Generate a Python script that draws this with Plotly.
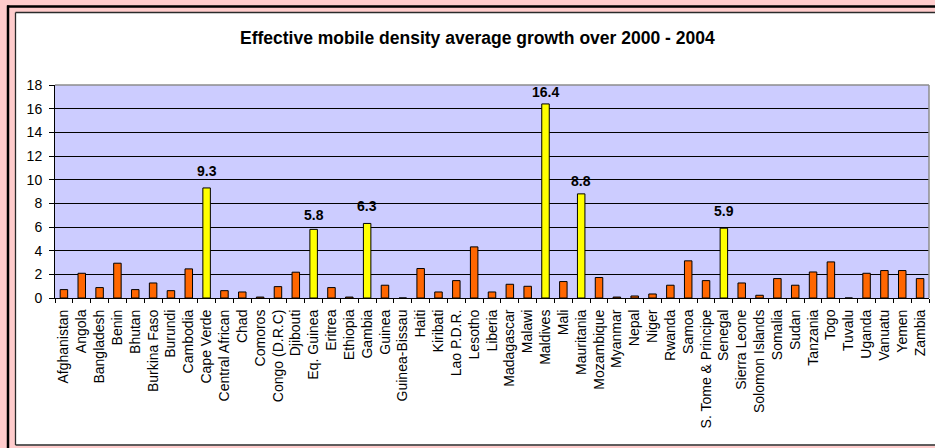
import plotly.graph_objects as go

# Average growth of effective mobile density, 2000-2004
countries = [
    "Afghanistan", "Angola", "Bangladesh", "Benin", "Bhutan", "Burkina Faso",
    "Burundi", "Cambodia", "Cape Verde", "Central African", "Chad", "Comoros",
    "Congo (D.R.C)", "Djibouti", "Eq. Guinea", "Eritrea", "Ethiopia", "Gambia",
    "Guinea", "Guinea-Bissau", "Haiti", "Kiribati", "Lao P.D.R.", "Lesotho",
    "Liberia", "Madagascar", "Malawi", "Maldives", "Mali", "Mauritania",
    "Mozambique", "Myanmar", "Nepal", "Niger", "Rwanda", "Samoa",
    "S. Tome & Principe", "Senegal", "Sierra Leone", "Solomon Islands",
    "Somalia", "Sudan", "Tanzania", "Togo", "Tuvalu", "Uganda", "Vanuatu",
    "Yemen", "Zambia",
]
growth = [
    0.71, 2.09, 0.88, 2.94, 0.71, 1.27,
    0.62, 2.46, 9.3, 0.62, 0.51, 0.08,
    0.96, 2.18, 5.8, 0.88, 0.08, 6.3,
    1.08, 0.0, 2.49, 0.51, 1.47, 4.32,
    0.51, 1.16, 0.99, 16.4, 1.39, 8.8,
    1.73, 0.08, 0.17, 0.34, 1.08, 3.14,
    1.47, 5.9, 1.27, 0.23,
    1.64, 1.08, 2.2, 3.05, 0.0, 2.09, 2.32,
    2.32, 1.64,
]
highlighted = ["Cape Verde", "Eq. Guinea", "Gambia", "Maldives", "Mauritania", "Senegal"]
y_ticks = [0, 2, 4, 6, 8, 10, 12, 14, 16, 18]

ORANGE = "#FF6600"
YELLOW = "#FFFF00"
PINK = "#FFCCCC"
LAVENDER = "#CCCCFF"
FONT = "Liberation Sans, Arial, sans-serif"

W, H = 935, 448
ML, MR, MT, MB = 55, 6, 85, 150
PW, PH = W - ML - MR, H - MT - MB

# vertical offset (px) of each value label above its bar
label_lift = {"Cape Verde": 7, "Eq. Guinea": 4.5, "Gambia": 7.5,
              "Maldives": 1.5, "Mauritania": 2.5, "Senegal": 7.5}


def px(x):
    return (x - ML) / PW


def py(y):
    return (H - MB - y) / PH


colors = [YELLOW if c in highlighted else ORANGE for c in countries]

fig = go.Figure(
    go.Bar(
        x=countries,
        y=growth,
        marker=dict(color=colors, line=dict(color="#000000", width=1)),
        width=0.42,
        hoverinfo="x+y",
    )
)

annotations = [
    dict(
        x=c, y=v, xref="x", yref="y", text=f"{v:.1f}", showarrow=False,
        yanchor="bottom", yshift=label_lift[c],
        font=dict(family=FONT, size=14, color="#000000", weight="bold"),
    )
    for c, v in zip(countries, growth) if c in highlighted
]
annotations.append(dict(
    x=px(477.5), y=py(37.5), xref="paper", yref="paper",
    text="<b>Effective mobile density average growth over 2000 - 2004</b>",
    showarrow=False, xanchor="center", yanchor="middle",
    font=dict(family=FONT, size=17.5, color="#000000"),
))


def hline(x0, x1, y, color, width):
    return dict(type="line", xref="paper", yref="paper", x0=px(x0), x1=px(x1),
                y0=py(y), y1=py(y), line=dict(color=color, width=width))


def vline(x, y0, y1, color, width):
    return dict(type="line", xref="paper", yref="paper", x0=px(x), x1=px(x),
                y0=py(y0), y1=py(y1), line=dict(color=color, width=width))


def band(x0, x1, y0, y1):
    return dict(type="rect", xref="paper", yref="paper", x0=px(x0), x1=px(x1),
                y0=py(y0), y1=py(y1), fillcolor=PINK, line=dict(width=0), layer="below")


shapes = [
    # pink surround
    band(0, W, 0, 12.5),
    band(0, 15, 0, H),
    band(0, W, 445.5, H),
    # heavy outer frame
    hline(7, W, 6.5, "#000000", 2.5),
    vline(8, 5.5, H, "#000000", 2.5),
    # chart area frame
    hline(15.5, W, 12.5, "#2a2a2a", 1.3),
    vline(15.5, 12.5, 445, "#2a2a2a", 1.3),
    hline(15.5, W, 445, "#2a2a2a", 1.3),
    # plot area top / right edge
    dict(type="line", xref="paper", yref="paper", x0=0, x1=1, y0=1, y1=1,
         line=dict(color="#8c8c8c", width=1.5)),
    dict(type="line", xref="paper", yref="paper", x0=1, x1=1, y0=0, y1=1,
         line=dict(color="#8c8c8c", width=1.5)),
]

fig.update_layout(
    width=W, height=H,
    margin=dict(l=ML, r=MR, t=MT, b=MB),
    paper_bgcolor="#FFFFFF",
    plot_bgcolor=LAVENDER,
    showlegend=False,
    annotations=annotations,
    shapes=shapes,
    xaxis=dict(
        type="category",
        tickangle=-90,
        tickfont=dict(family=FONT, size=14, color="#000000"),
        ticks="outside", ticklen=4, tickcolor="#000000", tickwidth=1,
        tickson="boundaries",
        ticklabelstandoff=5,
        showgrid=False,
        showline=True, linecolor="#000000", linewidth=1,
        range=[-0.5, len(countries) - 0.5],
    ),
    yaxis=dict(
        range=[0, 18],
        tickvals=y_ticks,
        tickfont=dict(family=FONT, size=14, color="#000000"),
        ticks="outside", ticklen=5, tickcolor="#000000", tickwidth=1,
        ticklabelstandoff=4,
        showgrid=True, gridcolor="#000000", gridwidth=1,
        showline=True, linecolor="#000000", linewidth=1,
        zeroline=False,
    ),
)

fig.write_html("out.html")
